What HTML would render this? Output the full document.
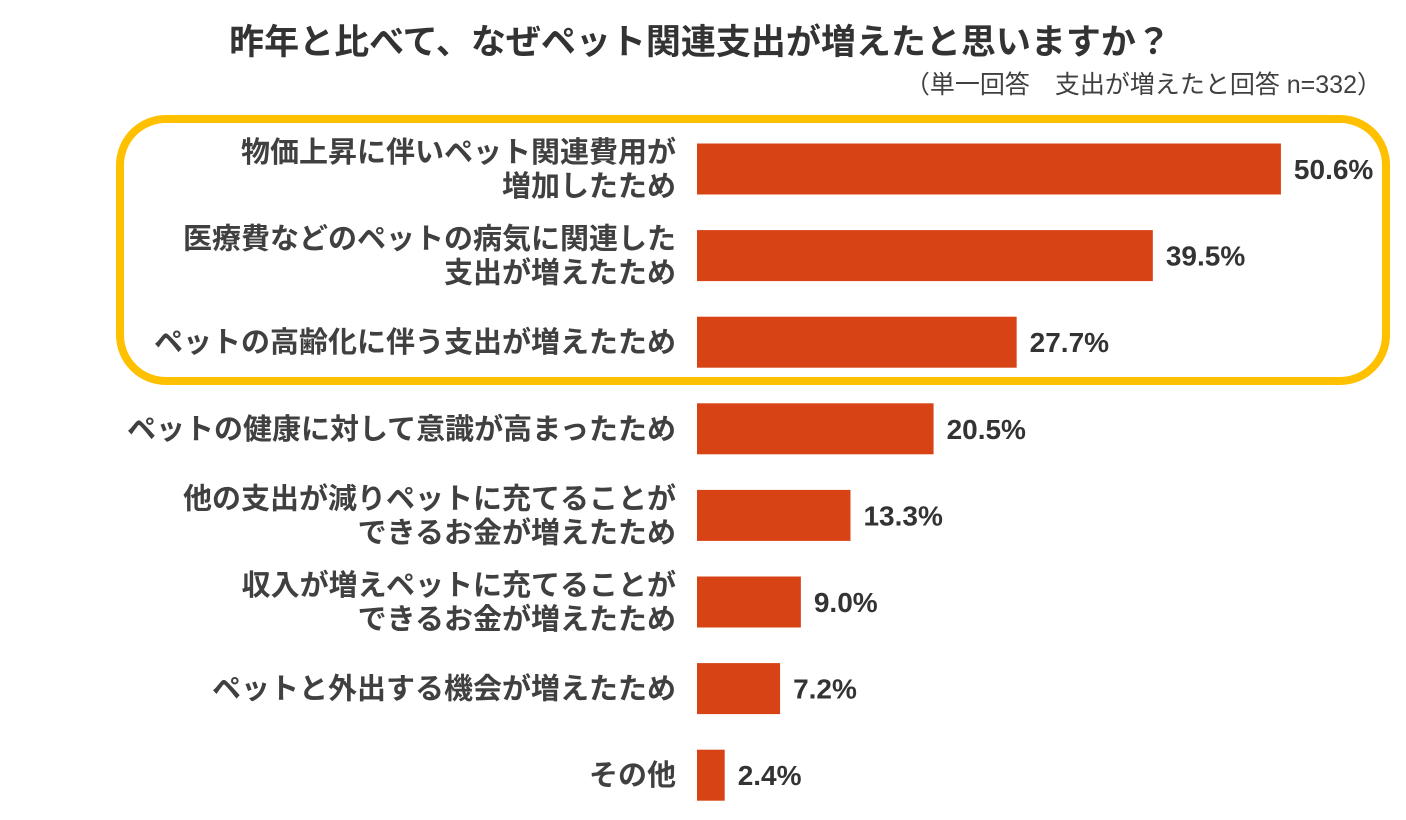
<!DOCTYPE html>
<html><head><meta charset="utf-8"><style>
body{margin:0;background:#fff;}
svg{display:block;font-family:"Liberation Sans","Noto Sans CJK JP",sans-serif;}
</style></head><body>
<svg id="chart" width="1406" height="820">
<text x="700" y="54" text-anchor="middle" font-size="35" font-weight="bold" fill="#333">昨年と比べて、なぜペット関連支出が増えたと思いますか？</text>
<text x="1382" y="93" text-anchor="end" font-size="25" fill="#404040">（単一回答　支出が増えたと回答 n=332）</text>
<rect x="120" y="119" width="1266" height="262" rx="46" ry="46" fill="none" stroke="#FFC000" stroke-width="8"/>
<g id="bars"></g>
</svg>
<script>
const categories=[["物価上昇に伴いペット関連費用が","増加したため"],["医療費などのペットの病気に関連した","支出が増えたため"],["ペットの高齢化に伴う支出が増えたため"],["ペットの健康に対して意識が高まったため"],["他の支出が減りペットに充てることが","できるお金が増えたため"],["収入が増えペットに充てることが","できるお金が増えたため"],["ペットと外出する機会が増えたため"],["その他"]];
const values=[50.6,39.5,27.7,20.5,13.3,9.0,7.2,2.4];
const valueLabels=["50.6%","39.5%","27.7%","20.5%","13.3%","9.0%","7.2%","2.4%"];
const NS="http://www.w3.org/2000/svg";
const g=document.getElementById('bars');
const x0=697, pxPer=11.54, y0=169, step=86.6, bh=51;
function xs(v){return x0+v*pxPer;}
function yc(i){return y0+i*step;}
values.forEach((v,i)=>{
  const r=document.createElementNS(NS,'rect');
  r.setAttribute('x',x0);r.setAttribute('y',yc(i)-bh/2);
  r.setAttribute('width',xs(v)-x0);r.setAttribute('height',bh);
  r.setAttribute('fill','#D84315');
  
  
  g.appendChild(r);
  const t=document.createElementNS(NS,'text');
  t.setAttribute('x',xs(v)+13);t.setAttribute('y',yc(i)+10);
  t.setAttribute('font-size','28');t.setAttribute('font-weight','bold');t.setAttribute('fill','#333');
  t.textContent=valueLabels[i];
  
  
  g.appendChild(t);
  const lines=categories[i];
  lines.forEach((ln,j)=>{
    const l=document.createElementNS(NS,'text');
    const off=lines.length===1?0:(j===0?-17:17);
    l.setAttribute('x',676);l.setAttribute('y',yc(i)+off+10);
    l.setAttribute('text-anchor','end');l.setAttribute('font-size','29');
    l.setAttribute('font-weight','bold');l.setAttribute('fill','#404040');
    l.textContent=ln;
    
    
    g.appendChild(l);
  });
});
</script>
</body></html>
